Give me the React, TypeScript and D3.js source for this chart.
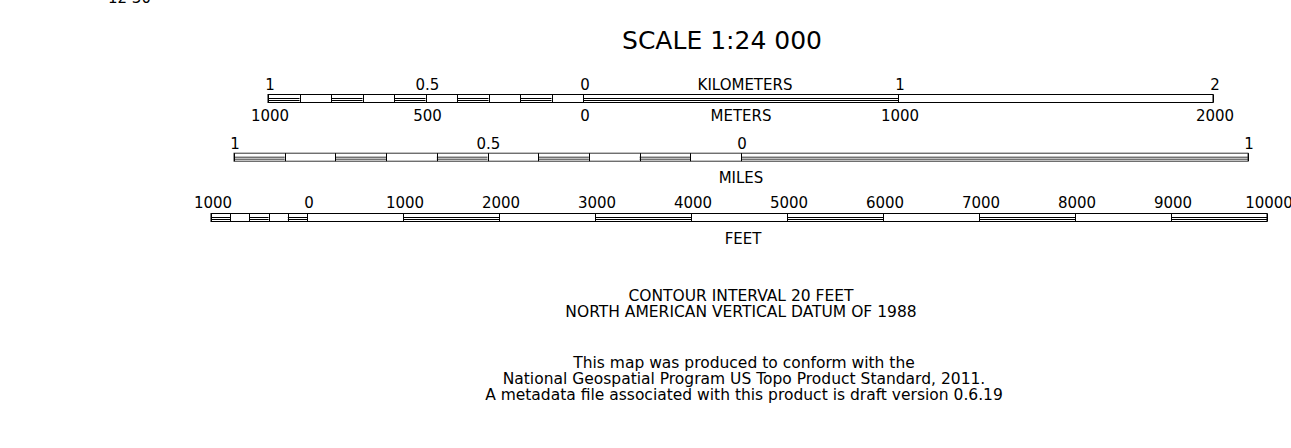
import React from 'react';
import * as d3 from 'd3';

const W = 1291;
const H = 448;

const cornerLabel = '12 30';
const titleText = 'SCALE 1:24 000';

const kmBreaks = [-1, -0.9, -0.8, -0.7, -0.6, -0.5, -0.4, -0.3, -0.2, -0.1, 0, 1, 2];
const kmTickValues = [-1, -0.5, 0, 1, 2];
const kmTickLabels = ['1', '0.5', '0', '1', '2'];
const meterTickLabels = ['1000', '500', '0', '1000', '2000'];
const kmUnit = 'KILOMETERS';
const meterUnit = 'METERS';

const mileBreaks = [-1, -0.9, -0.8, -0.7, -0.6, -0.5, -0.4, -0.3, -0.2, -0.1, 0, 1];
const mileTickValues = [-1, -0.5, 0, 1];
const mileTickLabels = ['1', '0.5', '0', '1'];
const mileUnit = 'MILES';

const feetBreaks = [-1000, -800, -600, -400, -200, 0, 1000, 2000, 3000, 4000, 5000, 6000, 7000, 8000, 9000, 10000];
const feetTickValues = [-1000, 0, 1000, 2000, 3000, 4000, 5000, 6000, 7000, 8000, 9000, 10000];
const feetTickLabels = ['1000', '0', '1000', '2000', '3000', '4000', '5000', '6000', '7000', '8000', '9000', '10000'];
const feetUnit = 'FEET';

const datumNotes = ['CONTOUR INTERVAL 20 FEET', 'NORTH AMERICAN VERTICAL DATUM OF 1988'];
const standardNotes = [
  'This map was produced to conform with the',
  'National Geospatial Program US Topo Product Standard, 2011.',
  'A metadata file associated with this product is draft version 0.6.19',
];

const FONT = '"DejaVu Sans", Verdana, sans-serif';

type BarProps = {
  scale: d3.ScaleLinear<number, number>;
  breaks: number[];
  top: number;
  stroke: string;
};

function Bar({ scale, breaks, top, stroke }: BarProps) {
  const segs = d3.pairs(breaks);
  const x0 = scale(breaks[0]);
  const x1 = scale(breaks[breaks.length - 1]);
  const bottom = top + 8;
  return (
    <g stroke={stroke} strokeWidth={1} fill="none">
      <rect x={x0} y={top} width={x1 - x0} height={8} fill="#fff" />
      {segs.map(([a, b], i) =>
        i % 2 === 0 ? (
          <g key={'f' + i}>
            <line x1={scale(a)} x2={scale(b)} y1={top + 4} y2={top + 4} />
            <line x1={scale(a)} x2={scale(b)} y1={top + 6} y2={top + 6} />
          </g>
        ) : null
      )}
      {breaks.map((v, i) => (
        <line key={'t' + i} x1={Math.round(scale(v)) + 0.5} x2={Math.round(scale(v)) + 0.5} y1={top} y2={bottom} stroke="#000" />
      ))}
    </g>
  );
}

export default function App() {
  const km = d3.scaleLinear().domain([-1, 2]).range([268, 1213]);
  const mi = d3.scaleLinear().domain([-1, 1]).range([234, 1248]);
  const ft = d3.scaleLinear().domain([-1000, 10000]).range([211, 1267]);
  const unitX = mi(0);

  return (
    <svg
      width={W}
      height={H}
      style={{ position: 'absolute', left: 0, top: 0, background: '#fff' }}
      fontFamily={FONT}
    >
      <rect x={0} y={0} width={W} height={H} fill="#fff" />
      <text x={108} y={3} fontSize={15} fill="#000">{cornerLabel}</text>
      <text x={722} y={49} fontSize={25} textAnchor="middle" fill="#000">{titleText}</text>

      {/* Kilometers / meters */}
      {kmTickValues.map((v, i) => (
        <text key={'kl' + i} x={km(v) + 2} y={90} fontSize={15} textAnchor="middle">{kmTickLabels[i]}</text>
      ))}
      <text x={unitX + 4} y={90} fontSize={15} textAnchor="middle">{kmUnit}</text>
      <Bar scale={km} breaks={kmBreaks} top={94.5} stroke="#000" />
      {kmTickValues.map((v, i) => (
        <text key={'ml' + i} x={km(v) + 2} y={121} fontSize={15} textAnchor="middle">{meterTickLabels[i]}</text>
      ))}
      <text x={unitX} y={121} fontSize={15} textAnchor="middle">{meterUnit}</text>

      {/* Miles */}
      {mileTickValues.map((v, i) => (
        <text key={'mi' + i} x={mi(v) + 1} y={149} fontSize={15} textAnchor="middle">{mileTickLabels[i]}</text>
      ))}
      <Bar scale={mi} breaks={mileBreaks} top={153.2} stroke="#333" />
      <text x={unitX} y={183} fontSize={15} textAnchor="middle">{mileUnit}</text>

      {/* Feet */}
      {feetTickValues.map((v, i) => (
        <text key={'ft' + i} x={ft(v) + 2} y={208} fontSize={15} textAnchor="middle">{feetTickLabels[i]}</text>
      ))}
      <Bar scale={ft} breaks={feetBreaks} top={213.5} stroke="#000" />
      <text x={unitX + 2} y={244} fontSize={15} textAnchor="middle">{feetUnit}</text>

      {/* Notes */}
      {datumNotes.map((t, i) => (
        <text key={'dn' + i} x={741} y={301 + i * 16} fontSize={15.5} textAnchor="middle">{t}</text>
      ))}
      {standardNotes.map((t, i) => (
        <text key={'sn' + i} x={744} y={368 + i * 16} fontSize={15.5} textAnchor="middle">{t}</text>
      ))}
    </svg>
  );
}
